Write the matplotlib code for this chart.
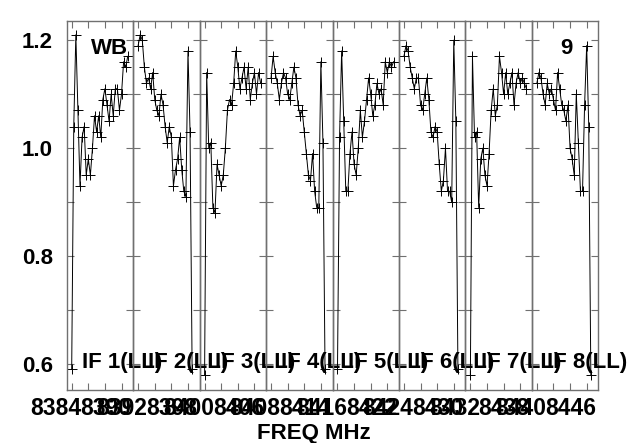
import numpy as np
import matplotlib
matplotlib.use('Agg')
import matplotlib.pyplot as plt
from matplotlib.transforms import ScaledTranslation

plt.rcParams['font.family'] = ['Liberation Sans', 'DejaVu Sans']
plt.rcParams['font.weight'] = 'bold'

# IF start frequencies (MHz), channel width (MHz)
if_start = [8384, 8392, 8400, 8408, 8416, 8424, 8432, 8440]
if_names = ['IF 1(LL)', 'IF 2(LL)', 'IF 3(LL)', 'IF 4(LL)',
            'IF 5(LL)', 'IF 6(LL)', 'IF 7(LL)', 'IF 8(LL)']
chan_width = 0.25

# amplitude per channel
amp_if1 = [0.59, 1.04, 1.21, 1.07, 0.93, 1.02, 1.04, 0.95, 0.98, 0.95, 1.00, 1.06, 1.03, 1.06,
           1.02, 1.09, 1.11, 1.08, 1.05, 1.10, 1.06, 1.11, 1.11, 1.07, 1.10, 1.16, 1.15, 1.17]
amp_if2 = [1.19, 1.21, 1.20, 1.15, 1.12, 1.13, 1.11, 1.14, 1.09, 1.07, 1.06, 1.10, 1.08, 1.04,
           1.01, 1.04, 1.02, 0.93, 0.96, 0.98, 1.02, 0.96, 0.92, 0.91, 1.18, 1.03, 0.59]
amp_if3 = [0.58, 1.14, 1.00, 1.01, 0.89, 0.88, 0.97, 0.95, 0.93, 0.95, 1.00, 1.07, 1.09, 1.08,
           1.12, 1.18, 1.15, 1.11, 1.13, 1.15, 1.11, 1.15, 1.09, 1.12, 1.14, 1.10, 1.14, 1.12]
amp_if4 = [1.13, 1.17, 1.14, 1.12, 1.09, 1.12, 1.14, 1.13, 1.10, 1.09, 1.12, 1.15, 1.13, 1.08,
           1.06, 1.07, 1.03, 0.99, 0.95, 0.94, 0.99, 0.92, 0.89, 0.89, 1.16, 1.01, 0.59]
amp_if5 = [0.59, 1.02, 1.18, 1.05, 0.92, 0.92, 0.99, 1.03, 0.97, 0.95, 1.00, 1.07, 1.02, 1.05,
           1.09, 1.13, 1.10, 1.06, 1.08, 1.12, 1.10, 1.11, 1.08, 1.16, 1.14, 1.16, 1.15, 1.16]
amp_if6 = [1.17, 1.19, 1.18, 1.15, 1.13, 1.11, 1.13, 1.13, 1.08, 1.07, 1.10, 1.13, 1.09, 1.03,
           1.02, 1.04, 1.03, 0.97, 0.92, 0.94, 1.00, 0.92, 0.92, 0.90, 1.20, 1.05, 0.59]
amp_if7 = [0.58, 1.17, 1.02, 1.03, 0.89, 0.98, 1.00, 0.95, 0.93, 0.99, 1.07, 1.11, 1.06, 1.08,
           1.17, 1.14, 1.10, 1.14, 1.10, 1.12, 1.14, 1.08, 1.12, 1.14, 1.12, 1.13, 1.12, 1.11]
amp_if8 = [1.12, 1.14, 1.13, 1.10, 1.08, 1.12, 1.10, 1.11, 1.09, 1.07, 1.14, 1.11, 1.08, 1.07,
           1.05, 1.08, 1.00, 0.98, 0.95, 1.10, 1.01, 0.92, 0.92, 1.08, 1.19, 1.04, 0.58]
amps = [amp_if1, amp_if2, amp_if3, amp_if4, amp_if5, amp_if6, amp_if7, amp_if8]

fig = plt.figure(figsize=(6.39, 4.43), dpi=100)
left, right = 66.7 / 639, 598.3 / 639
bottom, top = 1 - 390 / 443, 1 - 20.7 / 443
w = (right - left) / 8
grey = '#707070'
shift = ScaledTranslation(-16 / 100, 0, fig.dpi_scale_trans)

for i in range(8):
    ax = fig.add_axes([left + i * w, bottom, w, top - bottom])
    ax.patch.set_visible(False)
    f0 = if_start[i]
    freq = f0 + chan_width * np.arange(len(amps[i]))
    ax.plot(freq, amps[i], color='black', lw=0.7, marker='+', ms=7, mew=0.7)
    ax.set_xlim(f0 - 0.6, f0 + 7.4)
    ax.set_ylim(0.552, 1.236)

    # ticks every 2 MHz, labels at first and last tick of each IF
    ax.set_xticks([f0, f0 + 2, f0 + 4, f0 + 6])
    ax.set_xticklabels([str(f0), '', '', str(f0 + 6)])
    ax.tick_params(axis='x', direction='in', top=True, length=4.7, width=0.8,
                   color=grey, labelsize=16.5, pad=5)
    for lab in ax.get_xticklabels():
        lab.set_transform(lab.get_transform() + shift)

    ax.set_yticks([0.6, 0.7, 0.8, 0.9, 1.0, 1.1, 1.2])
    if i == 0:
        ax.set_yticklabels(['0.6', '', '0.8', '', '1.0', '', '1.2'])
    else:
        ax.set_yticklabels([])
    ax.tick_params(axis='y', direction='in', right=True, length=5, width=0.8,
                   color=grey, labelsize=16, pad=10)
    for sp in ax.spines.values():
        sp.set_color(grey)
        sp.set_linewidth(1.0)

    trans = ax.get_yaxis_transform()
    ax.text(0.23, 0.592, if_names[i], transform=trans, fontsize=16,
            fontweight='bold', va='baseline', ha='left', clip_on=False)

    if i == 0:
        ax.text(0.36, 1.175, 'WB', transform=trans, fontsize=16,
                fontweight='bold', va='baseline', ha='left')
    if i == 7:
        ax.text(0.42, 1.174, '9', transform=trans, fontsize=16,
                fontweight='bold', va='baseline', ha='left')

fig.text(314 / 639, 1 - 439 / 443, 'FREQ MHz', fontsize=16, fontweight='bold',
         ha='center', va='baseline')

fig.savefig('out.png', dpi=100)
